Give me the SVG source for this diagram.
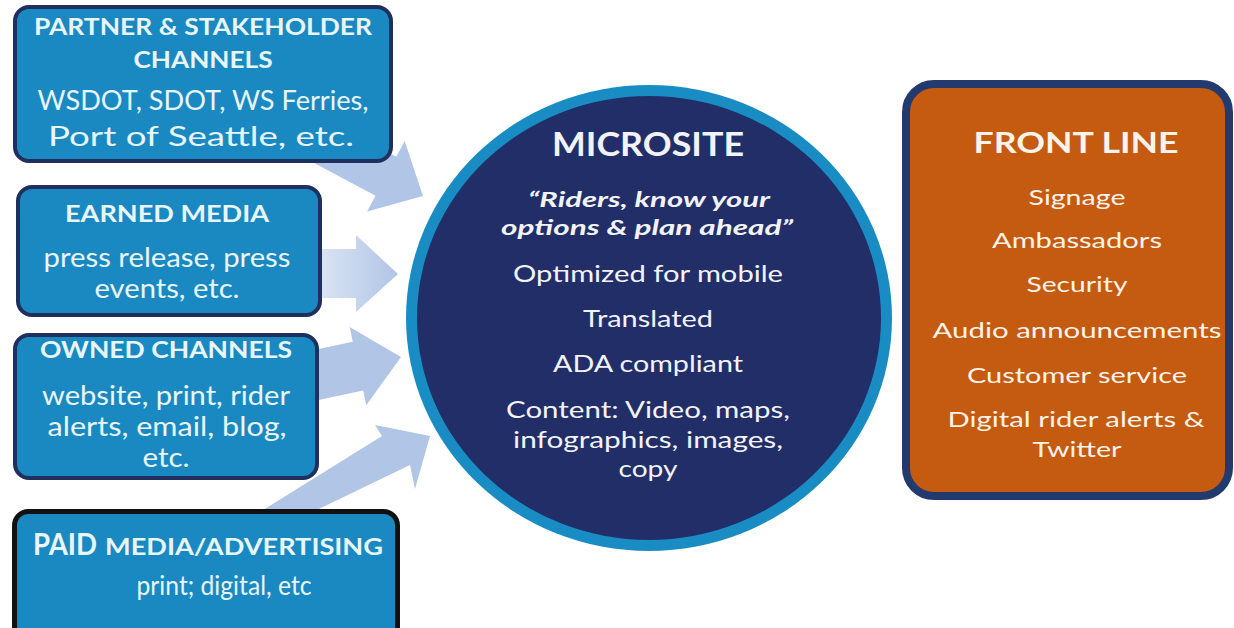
<svg xmlns="http://www.w3.org/2000/svg" width="1234" height="628" viewBox="0 0 1234 628">
  <defs>
    <style>
      .channel { fill: #1b89c1; stroke: #1f2f5e; stroke-width: 4; }
      .paid { fill: #1b89c1; stroke: #111111; stroke-width: 5; }
      .arrow { fill: #b1c5e6; }
      .t { font-family: Lato, "Open Sans", "DejaVu Sans", sans-serif; text-anchor: middle; }
      .ch-head { fill: #e8f6fa; font-weight: bold; font-size: 22px; }
      .ch-body { fill: #e8f6fa; font-size: 27px; }
      .ms-title { fill: #f2f3f8; font-weight: bold; font-size: 32px; }
      .ms-quote { fill: #f2f3f8; font-weight: bold; font-style: italic; font-size: 21px; }
      .ms-body { fill: #f2f3f8; font-size: 24px; }
      .fl-title { fill: #fdf3ea; font-weight: bold; font-size: 29px; }
      .fl-body { fill: #fdf3ea; font-size: 22px; }
    </style>
    <linearGradient id="fade" gradientUnits="userSpaceOnUse" x1="300" y1="0" x2="398" y2="0">
      <stop offset="0" stop-color="#e4ecf6"/>
      <stop offset="1" stop-color="#b1c5e6"/>
    </linearGradient>
  </defs>

  <rect width="1234" height="628" fill="#ffffff"/>

  <!-- block arrows feeding the microsite -->
  <g id="connectors">
    <path class="arrow" transform="translate(423,196) rotate(28)" d="M0,0 L-42,-40 L-42,-22 L-170,-22 L-170,22 L-42,22 L-42,40 Z"/>
    <path fill="url(#fade)" d="M398,274 L356,235 L356,249 L300,249 L300,298 L356,298 L356,312 Z"/>
    <path class="arrow" transform="translate(401,357) rotate(-12)" d="M0,0 L-44,-40 L-44,-25 L-110,-25 L-110,25 L-44,25 L-44,40 Z"/>
    <path class="arrow" d="M430,436 L375,425 L382,436 L247,520 L296,520 L410,465 L415,489 Z"/>
  </g>

  <!-- partner and stakeholder channels -->
  <g id="partner">
    <rect class="channel" x="15" y="7" width="376" height="154" rx="14"/>
    <text class="t ch-head" x="203" y="35" textLength="338" lengthAdjust="spacingAndGlyphs">PARTNER &amp; STAKEHOLDER</text>
    <text class="t ch-head" x="203" y="68" textLength="139" lengthAdjust="spacingAndGlyphs">CHANNELS</text>
    <text class="t ch-body" x="203" y="110" textLength="331" lengthAdjust="spacingAndGlyphs">WSDOT, SDOT, WS Ferries,</text>
    <text class="t ch-body" x="201" y="146" textLength="306" lengthAdjust="spacingAndGlyphs">Port of Seattle, etc.</text>
  </g>

  <!-- earned media -->
  <g id="earned">
    <rect class="channel" x="18" y="187" width="302" height="128" rx="14"/>
    <text class="t ch-head" x="167" y="222" textLength="204" lengthAdjust="spacingAndGlyphs">EARNED MEDIA</text>
    <text class="t ch-body" x="167" y="267" textLength="247" lengthAdjust="spacingAndGlyphs">press release, press</text>
    <text class="t ch-body" x="167" y="298" textLength="145" lengthAdjust="spacingAndGlyphs">events, etc.</text>
  </g>

  <!-- owned channels -->
  <g id="owned">
    <rect class="channel" x="15" y="335" width="302" height="143" rx="14"/>
    <text class="t ch-head" x="166" y="358" textLength="252" lengthAdjust="spacingAndGlyphs">OWNED CHANNELS</text>
    <text class="t ch-body" x="166" y="405" textLength="248" lengthAdjust="spacingAndGlyphs">website, print, rider</text>
    <text class="t ch-body" x="167" y="436" textLength="239" lengthAdjust="spacingAndGlyphs">alerts, email, blog,</text>
    <text class="t ch-body" x="166" y="467" textLength="47" lengthAdjust="spacingAndGlyphs">etc.</text>
  </g>

  <!-- paid media / advertising -->
  <g id="paid">
    <rect class="paid" x="14.5" y="511.5" width="383" height="135" rx="14"/>
    <text x="33" y="555" font-family="Lato, 'Open Sans', sans-serif" font-weight="bold" font-size="30" fill="#e8f6fa" textLength="64" lengthAdjust="spacingAndGlyphs">PAID</text>
    <text x="105" y="555" font-family="Lato, 'Open Sans', sans-serif" font-weight="bold" font-size="22" fill="#e8f6fa" textLength="278" lengthAdjust="spacingAndGlyphs">MEDIA/ADVERTISING</text>
    <text class="t ch-body" x="224" y="595" font-size="26" textLength="175" lengthAdjust="spacingAndGlyphs">print; digital, etc</text>
  </g>

  <!-- microsite hub -->
  <g id="microsite">
    <ellipse cx="649" cy="318" rx="243" ry="233" fill="#1a8cc4"/>
    <ellipse cx="649" cy="318" rx="232" ry="222" fill="#222e68"/>
    <text class="t ms-title" x="648" y="156" textLength="192" lengthAdjust="spacingAndGlyphs">MICROSITE</text>
    <text class="t ms-quote" x="649" y="207" textLength="242" lengthAdjust="spacingAndGlyphs">“Riders, know your</text>
    <text class="t ms-quote" x="647" y="235" textLength="292" lengthAdjust="spacingAndGlyphs">options &amp; plan ahead”</text>
    <text class="t ms-body" x="648" y="282" textLength="270" lengthAdjust="spacingAndGlyphs">Optimized for mobile</text>
    <text class="t ms-body" x="648" y="327" textLength="130" lengthAdjust="spacingAndGlyphs">Translated</text>
    <text class="t ms-body" x="648" y="372" textLength="190" lengthAdjust="spacingAndGlyphs">ADA compliant</text>
    <text class="t ms-body" x="648" y="418" textLength="284" lengthAdjust="spacingAndGlyphs">Content: Video, maps,</text>
    <text class="t ms-body" x="648" y="448" textLength="270" lengthAdjust="spacingAndGlyphs">infographics, images,</text>
    <text class="t ms-body" x="648" y="477" textLength="59" lengthAdjust="spacingAndGlyphs">copy</text>
  </g>

  <!-- front line -->
  <g id="frontline">
    <rect x="906" y="84" width="323" height="412" rx="28" fill="#c55a11" stroke="#223a6e" stroke-width="8"/>
    <text class="t fl-title" x="1076" y="153" textLength="205" lengthAdjust="spacingAndGlyphs">FRONT LINE</text>
    <text class="t fl-body" x="1077" y="205" textLength="97" lengthAdjust="spacingAndGlyphs">Signage</text>
    <text class="t fl-body" x="1077" y="248" textLength="170" lengthAdjust="spacingAndGlyphs">Ambassadors</text>
    <text class="t fl-body" x="1077" y="292" textLength="101" lengthAdjust="spacingAndGlyphs">Security</text>
    <text class="t fl-body" x="1077" y="338" textLength="289" lengthAdjust="spacingAndGlyphs">Audio announcements</text>
    <text class="t fl-body" x="1077" y="383" textLength="220" lengthAdjust="spacingAndGlyphs">Customer service</text>
    <text class="t fl-body" x="1076" y="427" textLength="257" lengthAdjust="spacingAndGlyphs">Digital rider alerts &amp;</text>
    <text class="t fl-body" x="1077" y="457" textLength="89" lengthAdjust="spacingAndGlyphs">Twitter</text>
  </g>
</svg>
